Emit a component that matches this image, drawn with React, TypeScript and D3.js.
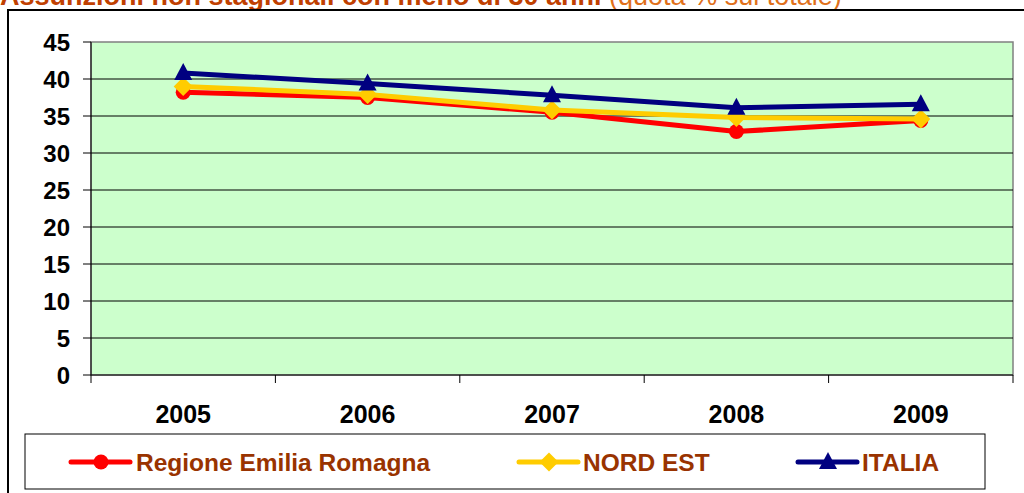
import React from "react";
import * as d3 from "d3";

const years = ["2005", "2006", "2007", "2008", "2009"];
const emiliaRomagna = [38.2, 37.5, 35.5, 32.9, 34.4];
const nordEst = [39.0, 37.9, 35.8, 34.8, 34.6];
const italia = [40.8, 39.4, 37.8, 36.1, 36.6];
const yTicks = [0, 5, 10, 15, 20, 25, 30, 35, 40, 45];
const seriesNames = ["Regione Emilia Romagna", "NORD EST", "ITALIA"];

const W = 1024;
const H = 493;
const plot = { left: 91, right: 1013, top: 42, bottom: 375 };
const FONT = "Arial, 'Liberation Sans', sans-serif";

const colors = ["#ff0000", "#ffcc00", "#000080"];
const shapes = ["circle", "diamond", "triangle"];

function Marker({ shape, x, y, color }: { shape: string; x: number; y: number; color: string }) {
  if (shape === "circle") return <circle cx={x} cy={y} r={7.5} fill={color} />;
  if (shape === "diamond") {
    const s = 9.5;
    return <path d={`M${x},${y - s}L${x + s},${y}L${x},${y + s}L${x - s},${y}Z`} fill={color} />;
  }
  const s = 9;
  return <path d={`M${x},${y - 10}L${x + s},${y + 7}L${x - s},${y + 7}Z`} fill={color} />;
}

export default function App() {
  const x = d3.scaleBand<string>().domain(years).range([plot.left, plot.right]).padding(0);
  const y = d3.scaleLinear().domain([0, 45]).range([plot.bottom, plot.top]);
  const data = [emiliaRomagna, nordEst, italia];
  const line = d3
    .line<number>()
    .x((_, i) => (x(years[i]) as number) + x.bandwidth() / 2)
    .y((d) => y(d));

  const legendItems = [
    { lx: 71, tx: 136 },
    { lx: 519, tx: 583 },
    { lx: 798, tx: 862 },
  ];
  const ly = 462;

  return (
    <svg
      width={W}
      height={H}
      style={{ position: "absolute", left: 0, top: 0, background: "#fff" }}
      fontFamily={FONT}
    >
      {/* title (partially cut off, as in the reference) */}
      <text x={0} y={5} fontSize={27} fontWeight="bold" fill="#c04000">
        Assunzioni non stagionali con meno di 30 anni{" "}
        <tspan fontWeight="normal" fill="#e0701a">(quota % sul totale)</tspan>
      </text>
      {/* outer frame */}
      <rect x={8} y={10} width={1040} height={520} fill="#fff" stroke="#000" strokeWidth={2} />

      {/* plot area */}
      <rect
        x={plot.left}
        y={plot.top}
        width={plot.right - plot.left}
        height={plot.bottom - plot.top}
        fill="#ccffcc"
        stroke="#808080"
        strokeWidth={1.5}
      />
      {yTicks.map((t) => (
        <g key={t}>
          {t > 0 && t < 45 && (
            <line x1={plot.left} x2={plot.right} y1={y(t)} y2={y(t)} stroke="#000" strokeWidth={1} />
          )}
          <line x1={plot.left - 8} x2={plot.left} y1={y(t)} y2={y(t)} stroke="#000" strokeWidth={1} />
          <text
            x={70}
            y={y(t)}
            dy="0.36em"
            textAnchor="end"
            fontSize={24}
            fontWeight="bold"
            fill="#000"
          >
            {t}
          </text>
        </g>
      ))}
      {/* axes */}
      <line x1={plot.left} x2={plot.left} y1={plot.top} y2={plot.bottom} stroke="#000" strokeWidth={1} />
      <line x1={plot.left} x2={plot.right} y1={plot.bottom} y2={plot.bottom} stroke="#000" strokeWidth={1} />
      {years.map((yr, i) => (
        <g key={yr}>
          <line
            x1={x(yr) as number}
            x2={x(yr) as number}
            y1={plot.bottom}
            y2={plot.bottom + 8}
            stroke="#000"
          />
          {i === years.length - 1 && (
            <line x1={plot.right} x2={plot.right} y1={plot.bottom} y2={plot.bottom + 8} stroke="#000" />
          )}
          <text
            x={(x(yr) as number) + x.bandwidth() / 2}
            y={423}
            textAnchor="middle"
            fontSize={25}
            fontWeight="bold"
            fill="#000"
          >
            {yr}
          </text>
        </g>
      ))}

      {/* series */}
      {data.map((vals, si) => (
        <g key={si}>
          <path d={line(vals) as string} fill="none" stroke={colors[si]} strokeWidth={5} strokeLinejoin="round" />
          {vals.map((v, i) => (
            <Marker
              key={i}
              shape={shapes[si]}
              x={(x(years[i]) as number) + x.bandwidth() / 2}
              y={y(v)}
              color={colors[si]}
            />
          ))}
        </g>
      ))}

      {/* legend */}
      <rect x={25} y={434} width={960} height={55} fill="#fff" stroke="#000" strokeWidth={1} />
      {seriesNames.map((name, si) => (
        <g key={name}>
          <line
            x1={legendItems[si].lx}
            x2={legendItems[si].lx + 59}
            y1={ly}
            y2={ly}
            stroke={colors[si]}
            strokeWidth={5}
            strokeLinecap="round"
          />
          <Marker shape={shapes[si]} x={legendItems[si].lx + 30} y={ly} color={colors[si]} />
          <text x={legendItems[si].tx} y={ly} dy="0.36em" fontSize={24.5} fontWeight="bold" fill="#993300">
            {name}
          </text>
        </g>
      ))}
    </svg>
  );
}
